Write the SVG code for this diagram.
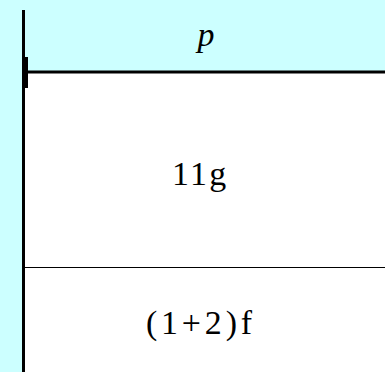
<svg xmlns="http://www.w3.org/2000/svg" width="385" height="372" viewBox="0 0 385 372">
<rect x="0" y="0" width="385" height="372" fill="#fff"/>
<g id="background">
<rect x="0" y="0" width="385" height="72" fill="#ccffff"/>
<rect x="0" y="0" width="23" height="372" fill="#ccffff"/>
</g>
<g id="connectors" stroke="#000" fill="none">
<line stroke-width="3" x1="23.5" y1="10" x2="23.5" y2="372"/>
<rect x="22" y="57" width="6" height="31" fill="#000" stroke="none"/>
<line stroke-width="3" x1="24" y1="72" x2="385" y2="72"/>
<line stroke-width="1" x1="24" y1="267.5" x2="385" y2="267.5"/>
</g>
<g id="node-p"><text transform="translate(206 46) scale(1.13)" x="0" y="0" font-family="Liberation Serif" font-size="30" font-style="italic" text-anchor="middle">p</text></g>
<g id="node-11g"><text transform="translate(199 185) scale(1.13)" x="0" y="0" font-family="Liberation Serif" font-size="30" text-anchor="middle" textLength="48" lengthAdjust="spacing">11g</text></g>
<g id="node-12f"><text transform="translate(199 334) scale(1.13)" x="0" y="0" font-family="Liberation Serif" font-size="30" text-anchor="middle" textLength="94" lengthAdjust="spacing">(1+2)f</text></g>
</svg>
